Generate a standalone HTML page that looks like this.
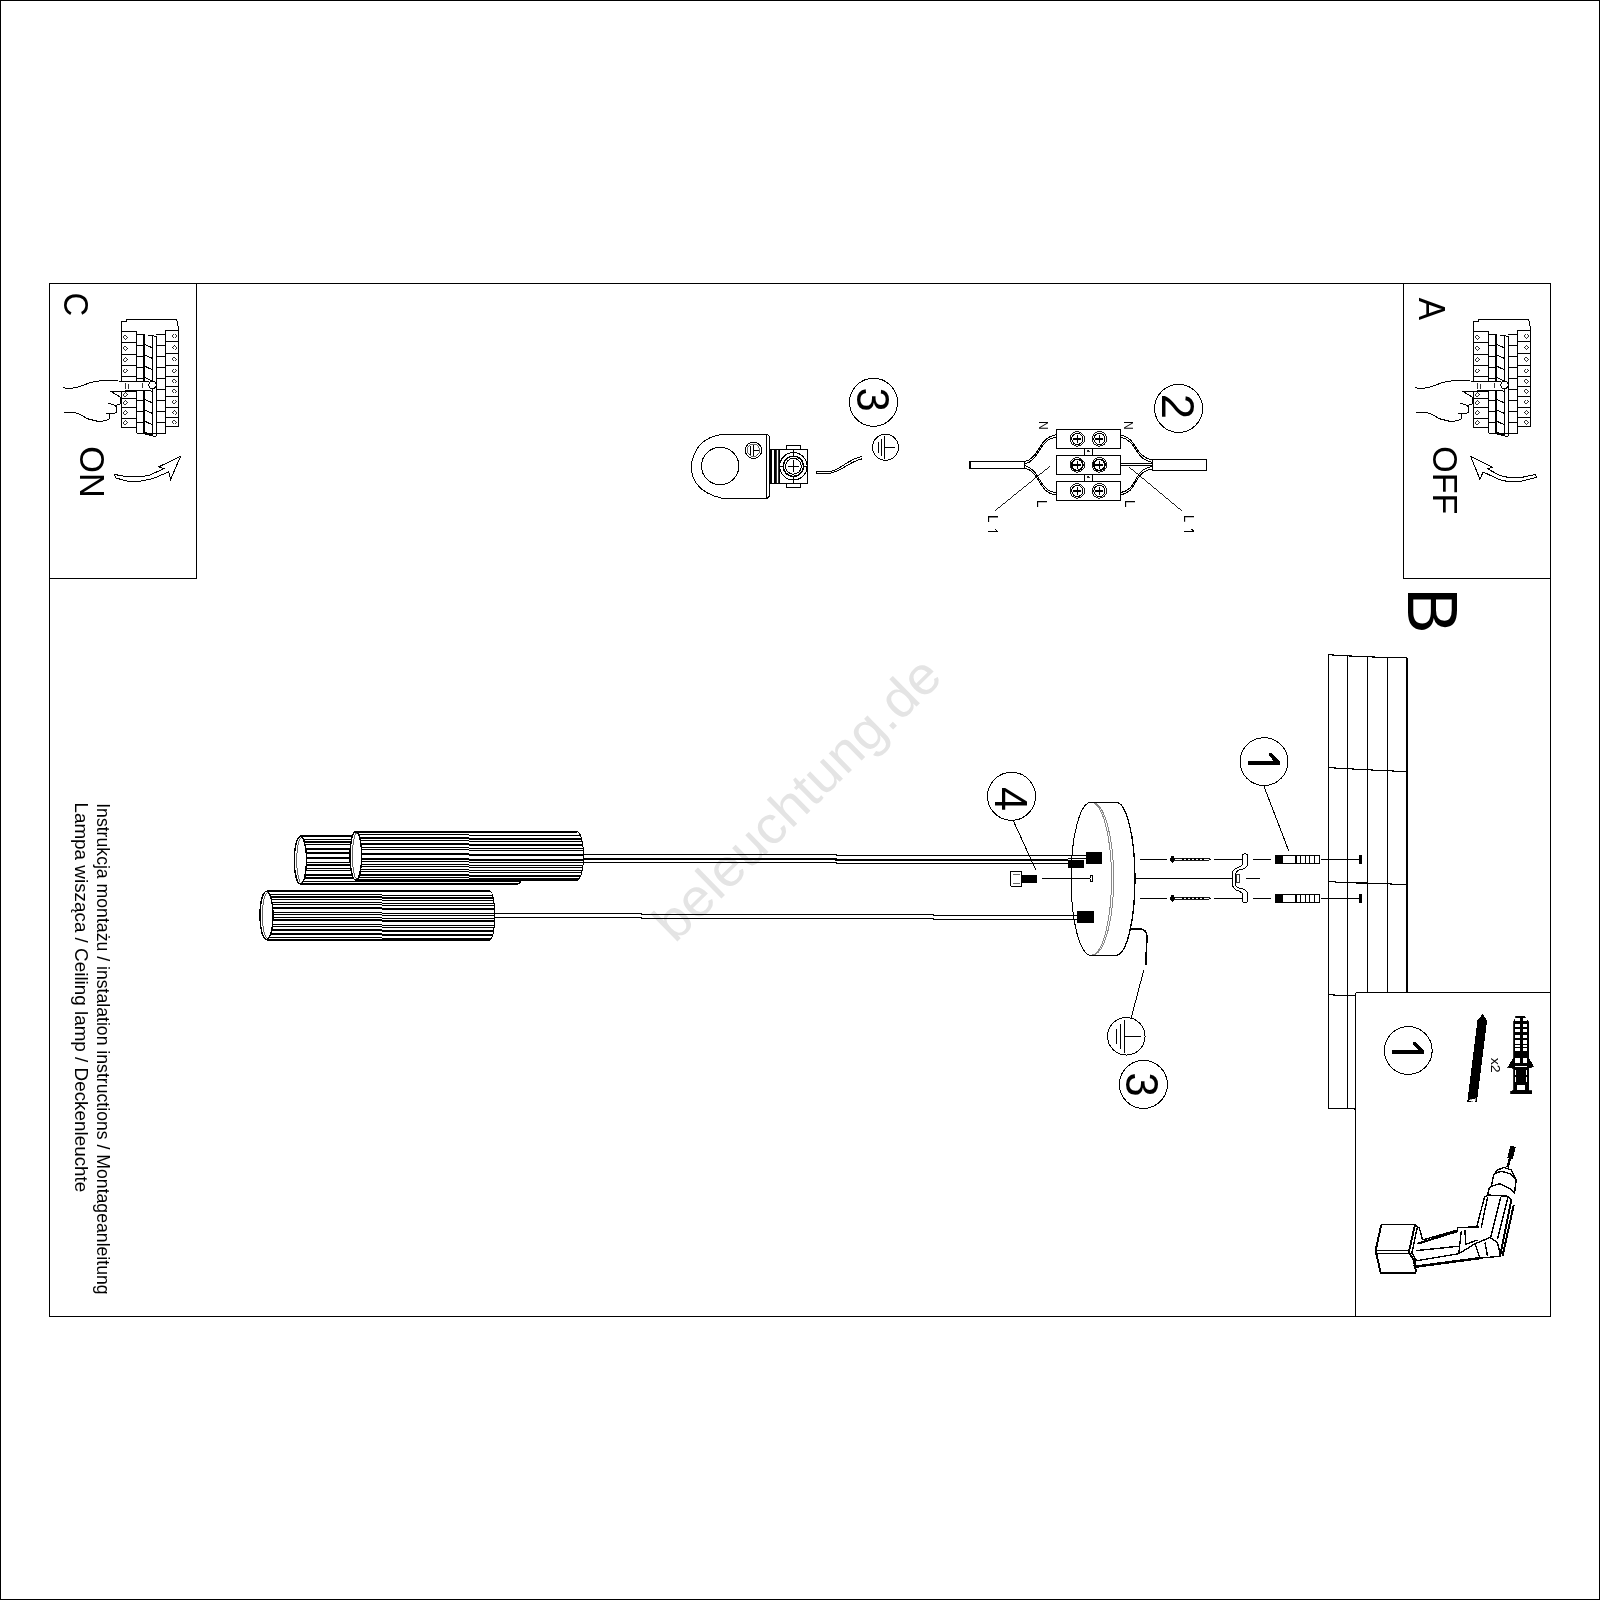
<!DOCTYPE html>
<html><head><meta charset="utf-8"><title>Installation</title>
<style>html,body{margin:0;padding:0;background:#fff;} svg{display:block;will-change:transform;} text{font-family:"Liberation Sans",sans-serif;}</style>
</head><body>
<svg width="1600" height="1600" viewBox="0 0 1600 1600" shape-rendering="crispEdges">
<rect x="0" y="0" width="1600" height="1600" fill="#fff"/>
<text transform="translate(674.8,944) rotate(-44.5)" font-size="53" fill="#e4e4e4" textLength="378" lengthAdjust="spacingAndGlyphs">beleuchtung.de</text>
<rect x="0.50" y="0.50" width="1599.00" height="1599.00" fill="none" stroke="#000" stroke-width="1" />
<rect x="49.50" y="283.50" width="1501.00" height="1033.00" fill="none" stroke="#000" stroke-width="1.0" />
<line x1="196.50" y1="283.50" x2="196.50" y2="578.50" stroke="#000" stroke-width="1.0" />
<line x1="49.50" y1="578.50" x2="196.50" y2="578.50" stroke="#000" stroke-width="1.0" />
<line x1="1403.50" y1="283.50" x2="1403.50" y2="578.50" stroke="#000" stroke-width="1.0" />
<line x1="1403.50" y1="578.50" x2="1550.50" y2="578.50" stroke="#000" stroke-width="1.0" />
<line x1="1355.50" y1="992.50" x2="1550.50" y2="992.50" stroke="#000" stroke-width="1.0" />
<line x1="1355.50" y1="992.50" x2="1355.50" y2="1316.50" stroke="#000" stroke-width="1.0" />
<text transform="translate(64.40,292.38) rotate(90) scale(0.9305,1)" font-size="35.38" font-weight="normal" fill="#000" >C</text>
<text transform="translate(80.41,446.17) rotate(90) scale(0.9795,1)" font-size="35.07" font-weight="normal" fill="#000" >ON</text>
<text transform="translate(1419.06,297.63) rotate(90) scale(0.9315,1)" font-size="36.11" font-weight="normal" fill="#000" >A</text>
<text transform="translate(1433.34,446.29) rotate(90) scale(0.9681,1)" font-size="35.17" font-weight="normal" fill="#000" >OFF</text>
<text transform="translate(1408.00,587.20) rotate(90) scale(0.9781,1)" font-size="71.08" font-weight="normal" fill="#000" >B</text>
<polyline points="121.25,331.88 121.25,321.25 126.25,321.25 126.25,319.00 176.00,319.00 177.50,321.88 178.50,330.00" fill="none" stroke="#000" stroke-width="1.0" />
<line x1="121.25" y1="331.88" x2="121.25" y2="427.50" stroke="#000" stroke-width="1.0" />
<line x1="136.50" y1="331.88" x2="136.50" y2="433.12" stroke="#000" stroke-width="1.0" />
<line x1="121.25" y1="331.88" x2="136.50" y2="331.88" stroke="#000" stroke-width="1.0" />
<line x1="121.25" y1="342.50" x2="136.50" y2="342.50" stroke="#000" stroke-width="1.0" />
<line x1="121.25" y1="354.12" x2="136.50" y2="354.12" stroke="#000" stroke-width="1.0" />
<line x1="121.25" y1="365.25" x2="136.50" y2="365.25" stroke="#000" stroke-width="1.0" />
<line x1="121.25" y1="376.25" x2="136.50" y2="376.25" stroke="#000" stroke-width="1.0" />
<line x1="121.25" y1="391.25" x2="136.50" y2="391.25" stroke="#000" stroke-width="1.0" />
<line x1="121.25" y1="398.12" x2="136.50" y2="398.12" stroke="#000" stroke-width="1.0" />
<line x1="121.25" y1="407.50" x2="136.50" y2="407.50" stroke="#000" stroke-width="1.0" />
<line x1="121.25" y1="418.12" x2="136.50" y2="418.12" stroke="#000" stroke-width="1.0" />
<line x1="121.25" y1="427.50" x2="136.50" y2="427.50" stroke="#000" stroke-width="1.0" />
<polygon points="125.38,334.99 127.58,337.19 125.38,339.39 123.17,337.19" fill="none" stroke="#000" stroke-width="0.8" />
<polygon points="125.38,346.11 127.58,348.31 125.38,350.51 123.17,348.31" fill="none" stroke="#000" stroke-width="0.8" />
<polygon points="125.38,357.49 127.58,359.69 125.38,361.89 123.17,359.69" fill="none" stroke="#000" stroke-width="0.8" />
<polygon points="125.38,368.55 127.58,370.75 125.38,372.95 123.17,370.75" fill="none" stroke="#000" stroke-width="0.8" />
<polygon points="125.38,392.49 127.58,394.69 125.38,396.89 123.17,394.69" fill="none" stroke="#000" stroke-width="0.8" />
<polygon points="125.38,400.61 127.58,402.81 125.38,405.01 123.17,402.81" fill="none" stroke="#000" stroke-width="0.8" />
<polygon points="125.38,410.61 127.58,412.81 125.38,415.01 123.17,412.81" fill="none" stroke="#000" stroke-width="0.8" />
<polygon points="125.38,420.61 127.58,422.81 125.38,425.01 123.17,422.81" fill="none" stroke="#000" stroke-width="0.8" />
<line x1="165.62" y1="330.00" x2="165.62" y2="433.12" stroke="#000" stroke-width="1.0" />
<line x1="178.50" y1="330.00" x2="178.50" y2="426.88" stroke="#000" stroke-width="1.0" />
<line x1="165.62" y1="330.00" x2="178.50" y2="330.00" stroke="#000" stroke-width="1.0" />
<line x1="165.62" y1="341.88" x2="178.50" y2="341.88" stroke="#000" stroke-width="1.0" />
<line x1="165.62" y1="353.12" x2="178.50" y2="353.12" stroke="#000" stroke-width="1.0" />
<line x1="165.62" y1="365.25" x2="178.50" y2="365.25" stroke="#000" stroke-width="1.0" />
<line x1="165.62" y1="376.25" x2="178.50" y2="376.25" stroke="#000" stroke-width="1.0" />
<line x1="165.62" y1="386.25" x2="178.50" y2="386.25" stroke="#000" stroke-width="1.0" />
<line x1="165.62" y1="396.25" x2="178.50" y2="396.25" stroke="#000" stroke-width="1.0" />
<line x1="165.62" y1="407.50" x2="178.50" y2="407.50" stroke="#000" stroke-width="1.0" />
<line x1="165.62" y1="417.50" x2="178.50" y2="417.50" stroke="#000" stroke-width="1.0" />
<line x1="165.62" y1="426.88" x2="178.50" y2="426.88" stroke="#000" stroke-width="1.0" />
<polygon points="174.38,333.74 176.57,335.94 174.38,338.14 172.18,335.94" fill="none" stroke="#000" stroke-width="0.8" />
<polygon points="174.38,345.30 176.57,347.50 174.38,349.70 172.18,347.50" fill="none" stroke="#000" stroke-width="0.8" />
<polygon points="174.38,356.99 176.57,359.19 174.38,361.39 172.18,359.19" fill="none" stroke="#000" stroke-width="0.8" />
<polygon points="174.38,368.55 176.57,370.75 174.38,372.95 172.18,370.75" fill="none" stroke="#000" stroke-width="0.8" />
<polygon points="174.38,379.05 176.57,381.25 174.38,383.45 172.18,381.25" fill="none" stroke="#000" stroke-width="0.8" />
<polygon points="174.38,389.05 176.57,391.25 174.38,393.45 172.18,391.25" fill="none" stroke="#000" stroke-width="0.8" />
<polygon points="174.38,399.68 176.57,401.88 174.38,404.07 172.18,401.88" fill="none" stroke="#000" stroke-width="0.8" />
<polygon points="174.38,410.30 176.57,412.50 174.38,414.70 172.18,412.50" fill="none" stroke="#000" stroke-width="0.8" />
<polygon points="174.38,419.99 176.57,422.19 174.38,424.39 172.18,422.19" fill="none" stroke="#000" stroke-width="0.8" />
<line x1="136.50" y1="334.38" x2="144.75" y2="334.38" stroke="#000" stroke-width="1.0" />
<line x1="156.25" y1="334.38" x2="165.62" y2="334.38" stroke="#000" stroke-width="1.0" />
<line x1="136.50" y1="334.38" x2="143.75" y2="334.38" stroke="#000" stroke-width="1.0" />
<line x1="156.25" y1="334.38" x2="165.62" y2="334.38" stroke="#000" stroke-width="1.0" />
<line x1="136.50" y1="345.62" x2="143.75" y2="345.62" stroke="#000" stroke-width="1.0" />
<line x1="156.25" y1="345.62" x2="165.62" y2="345.62" stroke="#000" stroke-width="1.0" />
<line x1="136.50" y1="356.25" x2="143.75" y2="356.25" stroke="#000" stroke-width="1.0" />
<line x1="156.25" y1="356.25" x2="165.62" y2="356.25" stroke="#000" stroke-width="1.0" />
<line x1="136.50" y1="367.50" x2="143.75" y2="367.50" stroke="#000" stroke-width="1.0" />
<line x1="156.25" y1="367.50" x2="165.62" y2="367.50" stroke="#000" stroke-width="1.0" />
<line x1="136.50" y1="378.75" x2="143.75" y2="378.75" stroke="#000" stroke-width="1.0" />
<line x1="156.25" y1="378.75" x2="165.62" y2="378.75" stroke="#000" stroke-width="1.0" />
<line x1="136.50" y1="389.38" x2="143.75" y2="389.38" stroke="#000" stroke-width="1.0" />
<line x1="156.25" y1="389.38" x2="165.62" y2="389.38" stroke="#000" stroke-width="1.0" />
<line x1="136.50" y1="400.62" x2="143.75" y2="400.62" stroke="#000" stroke-width="1.0" />
<line x1="156.25" y1="400.62" x2="165.62" y2="400.62" stroke="#000" stroke-width="1.0" />
<line x1="136.50" y1="411.25" x2="143.75" y2="411.25" stroke="#000" stroke-width="1.0" />
<line x1="156.25" y1="411.25" x2="165.62" y2="411.25" stroke="#000" stroke-width="1.0" />
<line x1="136.50" y1="422.50" x2="143.75" y2="422.50" stroke="#000" stroke-width="1.0" />
<line x1="156.25" y1="422.50" x2="165.62" y2="422.50" stroke="#000" stroke-width="1.0" />
<line x1="136.50" y1="433.12" x2="143.75" y2="433.12" stroke="#000" stroke-width="1.0" />
<line x1="156.25" y1="433.12" x2="165.62" y2="433.12" stroke="#000" stroke-width="1.0" />
<line x1="136.50" y1="433.12" x2="165.62" y2="433.12" stroke="#000" stroke-width="1.0" />
<line x1="144.00" y1="334.75" x2="144.00" y2="433.12" stroke="#000" stroke-width="2.0" />
<line x1="144.75" y1="335.00" x2="144.75" y2="433.75" stroke="#000" stroke-width="1.0" />
<line x1="152.50" y1="336.25" x2="152.50" y2="436.25" stroke="#000" stroke-width="1.0" />
<line x1="156.25" y1="336.25" x2="156.25" y2="436.25" stroke="#000" stroke-width="1.0" />
<line x1="147.75" y1="335.25" x2="156.25" y2="336.25" stroke="#000" stroke-width="1.0" />
<line x1="152.50" y1="436.25" x2="156.25" y2="436.25" stroke="#000" stroke-width="1.0" />
<line x1="144.75" y1="344.38" x2="152.50" y2="347.88" stroke="#000" stroke-width="1.0" />
<line x1="144.75" y1="355.00" x2="152.50" y2="358.50" stroke="#000" stroke-width="1.0" />
<line x1="144.75" y1="366.25" x2="152.50" y2="369.75" stroke="#000" stroke-width="1.0" />
<line x1="144.75" y1="377.50" x2="152.50" y2="381.00" stroke="#000" stroke-width="1.0" />
<line x1="144.75" y1="388.12" x2="152.50" y2="391.62" stroke="#000" stroke-width="1.0" />
<line x1="144.75" y1="399.38" x2="152.50" y2="402.88" stroke="#000" stroke-width="1.0" />
<line x1="144.75" y1="410.00" x2="152.50" y2="413.50" stroke="#000" stroke-width="1.0" />
<line x1="144.75" y1="421.25" x2="152.50" y2="424.75" stroke="#000" stroke-width="1.0" />
<line x1="144.75" y1="431.88" x2="152.50" y2="435.38" stroke="#000" stroke-width="1.0" />
<line x1="144.75" y1="433.75" x2="152.50" y2="436.25" stroke="#000" stroke-width="1.0" />
<polygon points="63.12,387.50 72.50,388.12 83.75,385.00 92.50,381.88 105.00,380.62 148.75,381.88 148.75,390.62 110.62,391.25 120.00,396.88 120.62,403.75 115.62,405.62 117.50,410.00 115.00,413.12 110.00,413.75 109.38,418.75 105.00,420.62 97.50,421.25 87.50,418.75 75.00,413.75 64.38,412.50" fill="#fff" stroke="#fff" stroke-width="0.01" />
<path d="M63.125 387.5 C68.75 389.375,77.5 387.5,83.75 385.0 S95.0 380.625,105.0 380.625 L148.75 381.875" fill="none" stroke="#000" stroke-width="1.0" />
<line x1="110.62" y1="391.25" x2="148.75" y2="390.62" stroke="#000" stroke-width="1.0" />
<path d="M110.625 391.25 L120.0 396.875 L120.625 403.75 L115.625 405.625 L108.125 403.125" fill="none" stroke="#000" stroke-width="1.0" />
<path d="M115.625 405.625 Q118.75 411.25,115.0 413.125 L105.625 413.125" fill="none" stroke="#000" stroke-width="1.0" />
<path d="M110.0 413.75 L109.375 418.75 Q107.5 421.25,97.5 421.25 L87.5 418.75 Q77.5 412.5,73.75 412.5 L64.375 412.5" fill="none" stroke="#000" stroke-width="1.0" />
<circle cx="152.50" cy="385.00" r="3.60" fill="#fff" stroke="#000" stroke-width="1.0"/>
<line x1="125.62" y1="382.50" x2="125.62" y2="388.75" stroke="#000" stroke-width="0.8" />
<line x1="128.12" y1="383.75" x2="128.12" y2="388.75" stroke="#000" stroke-width="0.8" />
<line x1="142.50" y1="383.12" x2="142.50" y2="388.12" stroke="#000" stroke-width="0.8" />
<polyline points="1473.25,331.88 1473.25,321.25 1478.25,321.25 1478.25,319.00 1528.00,319.00 1529.50,321.88 1530.50,330.00" fill="none" stroke="#000" stroke-width="1.0" />
<line x1="1473.25" y1="331.88" x2="1473.25" y2="427.50" stroke="#000" stroke-width="1.0" />
<line x1="1488.50" y1="331.88" x2="1488.50" y2="433.12" stroke="#000" stroke-width="1.0" />
<line x1="1473.25" y1="331.88" x2="1488.50" y2="331.88" stroke="#000" stroke-width="1.0" />
<line x1="1473.25" y1="342.50" x2="1488.50" y2="342.50" stroke="#000" stroke-width="1.0" />
<line x1="1473.25" y1="354.12" x2="1488.50" y2="354.12" stroke="#000" stroke-width="1.0" />
<line x1="1473.25" y1="365.25" x2="1488.50" y2="365.25" stroke="#000" stroke-width="1.0" />
<line x1="1473.25" y1="376.25" x2="1488.50" y2="376.25" stroke="#000" stroke-width="1.0" />
<line x1="1473.25" y1="391.25" x2="1488.50" y2="391.25" stroke="#000" stroke-width="1.0" />
<line x1="1473.25" y1="398.12" x2="1488.50" y2="398.12" stroke="#000" stroke-width="1.0" />
<line x1="1473.25" y1="407.50" x2="1488.50" y2="407.50" stroke="#000" stroke-width="1.0" />
<line x1="1473.25" y1="418.12" x2="1488.50" y2="418.12" stroke="#000" stroke-width="1.0" />
<line x1="1473.25" y1="427.50" x2="1488.50" y2="427.50" stroke="#000" stroke-width="1.0" />
<polygon points="1477.38,334.99 1479.58,337.19 1477.38,339.39 1475.17,337.19" fill="none" stroke="#000" stroke-width="0.8" />
<polygon points="1477.38,346.11 1479.58,348.31 1477.38,350.51 1475.17,348.31" fill="none" stroke="#000" stroke-width="0.8" />
<polygon points="1477.38,357.49 1479.58,359.69 1477.38,361.89 1475.17,359.69" fill="none" stroke="#000" stroke-width="0.8" />
<polygon points="1477.38,368.55 1479.58,370.75 1477.38,372.95 1475.17,370.75" fill="none" stroke="#000" stroke-width="0.8" />
<polygon points="1477.38,392.49 1479.58,394.69 1477.38,396.89 1475.17,394.69" fill="none" stroke="#000" stroke-width="0.8" />
<polygon points="1477.38,400.61 1479.58,402.81 1477.38,405.01 1475.17,402.81" fill="none" stroke="#000" stroke-width="0.8" />
<polygon points="1477.38,410.61 1479.58,412.81 1477.38,415.01 1475.17,412.81" fill="none" stroke="#000" stroke-width="0.8" />
<polygon points="1477.38,420.61 1479.58,422.81 1477.38,425.01 1475.17,422.81" fill="none" stroke="#000" stroke-width="0.8" />
<line x1="1517.62" y1="330.00" x2="1517.62" y2="433.12" stroke="#000" stroke-width="1.0" />
<line x1="1530.50" y1="330.00" x2="1530.50" y2="426.88" stroke="#000" stroke-width="1.0" />
<line x1="1517.62" y1="330.00" x2="1530.50" y2="330.00" stroke="#000" stroke-width="1.0" />
<line x1="1517.62" y1="341.88" x2="1530.50" y2="341.88" stroke="#000" stroke-width="1.0" />
<line x1="1517.62" y1="353.12" x2="1530.50" y2="353.12" stroke="#000" stroke-width="1.0" />
<line x1="1517.62" y1="365.25" x2="1530.50" y2="365.25" stroke="#000" stroke-width="1.0" />
<line x1="1517.62" y1="376.25" x2="1530.50" y2="376.25" stroke="#000" stroke-width="1.0" />
<line x1="1517.62" y1="386.25" x2="1530.50" y2="386.25" stroke="#000" stroke-width="1.0" />
<line x1="1517.62" y1="396.25" x2="1530.50" y2="396.25" stroke="#000" stroke-width="1.0" />
<line x1="1517.62" y1="407.50" x2="1530.50" y2="407.50" stroke="#000" stroke-width="1.0" />
<line x1="1517.62" y1="417.50" x2="1530.50" y2="417.50" stroke="#000" stroke-width="1.0" />
<line x1="1517.62" y1="426.88" x2="1530.50" y2="426.88" stroke="#000" stroke-width="1.0" />
<polygon points="1526.38,333.74 1528.58,335.94 1526.38,338.14 1524.17,335.94" fill="none" stroke="#000" stroke-width="0.8" />
<polygon points="1526.38,345.30 1528.58,347.50 1526.38,349.70 1524.17,347.50" fill="none" stroke="#000" stroke-width="0.8" />
<polygon points="1526.38,356.99 1528.58,359.19 1526.38,361.39 1524.17,359.19" fill="none" stroke="#000" stroke-width="0.8" />
<polygon points="1526.38,368.55 1528.58,370.75 1526.38,372.95 1524.17,370.75" fill="none" stroke="#000" stroke-width="0.8" />
<polygon points="1526.38,379.05 1528.58,381.25 1526.38,383.45 1524.17,381.25" fill="none" stroke="#000" stroke-width="0.8" />
<polygon points="1526.38,389.05 1528.58,391.25 1526.38,393.45 1524.17,391.25" fill="none" stroke="#000" stroke-width="0.8" />
<polygon points="1526.38,399.68 1528.58,401.88 1526.38,404.07 1524.17,401.88" fill="none" stroke="#000" stroke-width="0.8" />
<polygon points="1526.38,410.30 1528.58,412.50 1526.38,414.70 1524.17,412.50" fill="none" stroke="#000" stroke-width="0.8" />
<polygon points="1526.38,419.99 1528.58,422.19 1526.38,424.39 1524.17,422.19" fill="none" stroke="#000" stroke-width="0.8" />
<line x1="1488.50" y1="334.38" x2="1496.75" y2="334.38" stroke="#000" stroke-width="1.0" />
<line x1="1508.25" y1="334.38" x2="1517.62" y2="334.38" stroke="#000" stroke-width="1.0" />
<line x1="1488.50" y1="334.38" x2="1495.75" y2="334.38" stroke="#000" stroke-width="1.0" />
<line x1="1508.25" y1="334.38" x2="1517.62" y2="334.38" stroke="#000" stroke-width="1.0" />
<line x1="1488.50" y1="345.62" x2="1495.75" y2="345.62" stroke="#000" stroke-width="1.0" />
<line x1="1508.25" y1="345.62" x2="1517.62" y2="345.62" stroke="#000" stroke-width="1.0" />
<line x1="1488.50" y1="356.25" x2="1495.75" y2="356.25" stroke="#000" stroke-width="1.0" />
<line x1="1508.25" y1="356.25" x2="1517.62" y2="356.25" stroke="#000" stroke-width="1.0" />
<line x1="1488.50" y1="367.50" x2="1495.75" y2="367.50" stroke="#000" stroke-width="1.0" />
<line x1="1508.25" y1="367.50" x2="1517.62" y2="367.50" stroke="#000" stroke-width="1.0" />
<line x1="1488.50" y1="378.75" x2="1495.75" y2="378.75" stroke="#000" stroke-width="1.0" />
<line x1="1508.25" y1="378.75" x2="1517.62" y2="378.75" stroke="#000" stroke-width="1.0" />
<line x1="1488.50" y1="389.38" x2="1495.75" y2="389.38" stroke="#000" stroke-width="1.0" />
<line x1="1508.25" y1="389.38" x2="1517.62" y2="389.38" stroke="#000" stroke-width="1.0" />
<line x1="1488.50" y1="400.62" x2="1495.75" y2="400.62" stroke="#000" stroke-width="1.0" />
<line x1="1508.25" y1="400.62" x2="1517.62" y2="400.62" stroke="#000" stroke-width="1.0" />
<line x1="1488.50" y1="411.25" x2="1495.75" y2="411.25" stroke="#000" stroke-width="1.0" />
<line x1="1508.25" y1="411.25" x2="1517.62" y2="411.25" stroke="#000" stroke-width="1.0" />
<line x1="1488.50" y1="422.50" x2="1495.75" y2="422.50" stroke="#000" stroke-width="1.0" />
<line x1="1508.25" y1="422.50" x2="1517.62" y2="422.50" stroke="#000" stroke-width="1.0" />
<line x1="1488.50" y1="433.12" x2="1495.75" y2="433.12" stroke="#000" stroke-width="1.0" />
<line x1="1508.25" y1="433.12" x2="1517.62" y2="433.12" stroke="#000" stroke-width="1.0" />
<line x1="1488.50" y1="433.12" x2="1517.62" y2="433.12" stroke="#000" stroke-width="1.0" />
<line x1="1496.00" y1="334.75" x2="1496.00" y2="433.12" stroke="#000" stroke-width="2.0" />
<line x1="1496.75" y1="335.00" x2="1496.75" y2="433.75" stroke="#000" stroke-width="1.0" />
<line x1="1504.50" y1="336.25" x2="1504.50" y2="436.25" stroke="#000" stroke-width="1.0" />
<line x1="1508.25" y1="336.25" x2="1508.25" y2="436.25" stroke="#000" stroke-width="1.0" />
<line x1="1499.75" y1="335.25" x2="1508.25" y2="336.25" stroke="#000" stroke-width="1.0" />
<line x1="1504.50" y1="436.25" x2="1508.25" y2="436.25" stroke="#000" stroke-width="1.0" />
<line x1="1496.75" y1="344.38" x2="1504.50" y2="347.88" stroke="#000" stroke-width="1.0" />
<line x1="1496.75" y1="355.00" x2="1504.50" y2="358.50" stroke="#000" stroke-width="1.0" />
<line x1="1496.75" y1="366.25" x2="1504.50" y2="369.75" stroke="#000" stroke-width="1.0" />
<line x1="1496.75" y1="377.50" x2="1504.50" y2="381.00" stroke="#000" stroke-width="1.0" />
<line x1="1496.75" y1="388.12" x2="1504.50" y2="391.62" stroke="#000" stroke-width="1.0" />
<line x1="1496.75" y1="399.38" x2="1504.50" y2="402.88" stroke="#000" stroke-width="1.0" />
<line x1="1496.75" y1="410.00" x2="1504.50" y2="413.50" stroke="#000" stroke-width="1.0" />
<line x1="1496.75" y1="421.25" x2="1504.50" y2="424.75" stroke="#000" stroke-width="1.0" />
<line x1="1496.75" y1="431.88" x2="1504.50" y2="435.38" stroke="#000" stroke-width="1.0" />
<line x1="1496.75" y1="433.75" x2="1504.50" y2="436.25" stroke="#000" stroke-width="1.0" />
<polygon points="1415.12,387.50 1424.50,388.12 1435.75,385.00 1444.50,381.88 1457.00,380.62 1500.75,381.88 1500.75,390.62 1462.62,391.25 1472.00,396.88 1472.62,403.75 1467.62,405.62 1469.50,410.00 1467.00,413.12 1462.00,413.75 1461.38,418.75 1457.00,420.62 1449.50,421.25 1439.50,418.75 1427.00,413.75 1416.38,412.50" fill="#fff" stroke="#fff" stroke-width="0.01" />
<path d="M1415.125 387.5 C1420.75 389.375,1429.5 387.5,1435.75 385.0 S1447.0 380.625,1457.0 380.625 L1500.75 381.875" fill="none" stroke="#000" stroke-width="1.0" />
<line x1="1462.62" y1="391.25" x2="1500.75" y2="390.62" stroke="#000" stroke-width="1.0" />
<path d="M1462.625 391.25 L1472.0 396.875 L1472.625 403.75 L1467.625 405.625 L1460.125 403.125" fill="none" stroke="#000" stroke-width="1.0" />
<path d="M1467.625 405.625 Q1470.75 411.25,1467.0 413.125 L1457.625 413.125" fill="none" stroke="#000" stroke-width="1.0" />
<path d="M1462.0 413.75 L1461.375 418.75 Q1459.5 421.25,1449.5 421.25 L1439.5 418.75 Q1429.5 412.5,1425.75 412.5 L1416.375 412.5" fill="none" stroke="#000" stroke-width="1.0" />
<circle cx="1504.50" cy="385.00" r="3.60" fill="#fff" stroke="#000" stroke-width="1.0"/>
<line x1="1477.62" y1="382.50" x2="1477.62" y2="388.75" stroke="#000" stroke-width="0.8" />
<line x1="1480.12" y1="383.75" x2="1480.12" y2="388.75" stroke="#000" stroke-width="0.8" />
<line x1="1494.50" y1="383.12" x2="1494.50" y2="388.12" stroke="#000" stroke-width="0.8" />
<polygon points="114.40,474.40 127.50,476.90 140.00,476.90 150.00,475.00 163.75,468.75 158.75,466.90 180.60,456.25 170.60,479.40 168.75,471.90 152.50,478.75 140.00,481.25 127.50,481.25 116.25,478.10" fill="none" stroke="#000" stroke-width="1.0" />
<polygon points="1535.60,474.40 1521.25,477.50 1508.75,477.50 1500.00,475.60 1487.50,468.75 1492.50,467.25 1470.60,456.25 1480.00,479.40 1483.10,471.90 1498.75,479.40 1507.50,481.50 1521.25,481.25 1536.25,477.50" fill="none" stroke="#000" stroke-width="1.0" />
<line x1="1328.50" y1="654.50" x2="1328.50" y2="1108.50" stroke="#000" stroke-width="1.2" />
<line x1="1347.50" y1="656.00" x2="1347.50" y2="1108.50" stroke="#000" stroke-width="1.2" />
<line x1="1367.50" y1="656.50" x2="1367.50" y2="992.50" stroke="#000" stroke-width="1.2" />
<line x1="1387.50" y1="657.00" x2="1387.50" y2="992.50" stroke="#000" stroke-width="1.2" />
<line x1="1407.00" y1="657.50" x2="1407.00" y2="992.50" stroke="#000" stroke-width="1.6" />
<polyline points="1328.50,654.50 1338.00,655.50 1347.50,655.80 1357.00,656.50 1367.50,656.50 1377.00,657.30 1387.50,657.30 1397.00,657.80 1407.00,657.80" fill="none" stroke="#000" stroke-width="1.2" />
<polyline points="1328.50,767.30 1338.00,768.30 1347.50,768.40 1357.00,769.50 1367.50,769.60 1377.00,770.40 1387.50,770.50 1397.00,771.40 1407.00,771.40" fill="none" stroke="#000" stroke-width="1.2" />
<polyline points="1328.50,881.20 1338.00,882.30 1347.50,882.30 1357.00,883.00 1367.50,883.10 1377.00,883.60 1387.50,883.70 1397.00,884.50 1407.00,884.50" fill="none" stroke="#000" stroke-width="1.2" />
<polyline points="1328.50,994.40 1338.00,995.50 1347.50,995.50 1355.50,995.60" fill="none" stroke="#000" stroke-width="1.2" />
<polyline points="1328.50,1108.50 1347.50,1108.50 1355.50,1109.00" fill="none" stroke="#000" stroke-width="1.2" />
<circle cx="1264.00" cy="761.60" r="23.90" fill="none" stroke="#000" stroke-width="1.0"/>
<rect x="1248.00" y="761.05" width="31.80" height="3.85" fill="#000" stroke="#000" stroke-width="0" />
<polygon points="1268.80,753.20 1271.50,753.10 1279.80,761.30 1279.80,763.10 1273.80,761.05 1269.00,755.40" fill="#000" stroke="#000" stroke-width="0.01" />
<circle cx="1408.30" cy="1050.50" r="23.90" fill="none" stroke="#000" stroke-width="1.0"/>
<rect x="1392.30" y="1049.95" width="31.80" height="3.85" fill="#000" stroke="#000" stroke-width="0" />
<polygon points="1413.10,1042.10 1415.80,1042.00 1424.10,1050.20 1424.10,1052.00 1418.10,1049.95 1413.30,1044.30" fill="#000" stroke="#000" stroke-width="0.01" />
<circle cx="1011.50" cy="796.30" r="24.00" fill="none" stroke="#000" stroke-width="1.0"/>
<text transform="translate(995.00,787.01) rotate(90) scale(0.9330,1)" font-size="46.37" font-weight="normal" fill="#000" >4</text>
<circle cx="1143.40" cy="1084.40" r="24.00" fill="none" stroke="#000" stroke-width="1.0"/>
<text transform="translate(1126.45,1072.32) rotate(90) scale(0.9515,1)" font-size="46.33" font-weight="normal" fill="#000" >3</text>
<circle cx="1178.60" cy="408.40" r="24.00" fill="none" stroke="#000" stroke-width="1.0"/>
<text transform="translate(1162.00,393.80) rotate(90) scale(0.9994,1)" font-size="45.69" font-weight="normal" fill="#000" >2</text>
<circle cx="873.50" cy="402.30" r="24.00" fill="none" stroke="#000" stroke-width="1.0"/>
<text transform="translate(856.55,387.44) rotate(90) scale(0.9424,1)" font-size="46.33" font-weight="normal" fill="#000" >3</text>
<line x1="1263.70" y1="785.60" x2="1288.70" y2="850.80" stroke="#000" stroke-width="1.0" />
<line x1="1013.20" y1="820.50" x2="1035.70" y2="869.70" stroke="#000" stroke-width="1.0" />
<circle cx="1126.30" cy="1036.30" r="18.75" fill="none" stroke="#000" stroke-width="1.0"/>
<line x1="1116.30" y1="1028.80" x2="1116.30" y2="1044.40" stroke="#000" stroke-width="1.0" />
<line x1="1120.40" y1="1024.40" x2="1120.40" y2="1048.80" stroke="#000" stroke-width="1.0" />
<line x1="1124.40" y1="1020.10" x2="1124.40" y2="1052.50" stroke="#000" stroke-width="1.0" />
<line x1="1124.40" y1="1036.30" x2="1140.70" y2="1036.30" stroke="#000" stroke-width="1.0" />
<circle cx="885.50" cy="447.30" r="13.00" fill="none" stroke="#000" stroke-width="1.0"/>
<line x1="878.57" y1="442.10" x2="878.57" y2="452.92" stroke="#000" stroke-width="1.0" />
<line x1="881.41" y1="439.05" x2="881.41" y2="455.97" stroke="#000" stroke-width="1.0" />
<line x1="884.18" y1="436.07" x2="884.18" y2="458.53" stroke="#000" stroke-width="1.0" />
<line x1="884.18" y1="447.30" x2="895.48" y2="447.30" stroke="#000" stroke-width="1.0" />
<path d="M1131.3,928.7 L1140,928.7 Q1147,929.5 1147,937 L1145.7,965" fill="none" stroke="#000" stroke-width="1.6" />
<line x1="1143.80" y1="970.00" x2="1131.30" y2="1017.50" stroke="#000" stroke-width="1.0" />
<path d="M300.40,836.50 L518.00,836.50 A6.00,23.75 0 0 1 518.00,884.00 L300.40,884.00 Z" fill="#fff" stroke="none"/>
<line x1="300.40" y1="836.00" x2="518.00" y2="836.00" stroke="#000" stroke-width="1.6" shape-rendering="crispEdges"/>
<line x1="303.37" y1="839.50" x2="520.92" y2="839.50" stroke="#000" stroke-width="1" shape-rendering="crispEdges"/>
<line x1="304.45" y1="842.00" x2="521.99" y2="842.00" stroke="#000" stroke-width="1.6" shape-rendering="crispEdges"/>
<line x1="305.08" y1="844.50" x2="522.60" y2="844.50" stroke="#000" stroke-width="1" shape-rendering="crispEdges"/>
<line x1="305.63" y1="848.50" x2="523.14" y2="848.50" stroke="#000" stroke-width="1" shape-rendering="crispEdges"/>
<line x1="305.84" y1="849.50" x2="523.35" y2="849.50" stroke="#000" stroke-width="1" shape-rendering="crispEdges"/>
<line x1="306.12" y1="852.50" x2="523.63" y2="852.50" stroke="#000" stroke-width="1" shape-rendering="crispEdges"/>
<line x1="306.25" y1="853.50" x2="523.75" y2="853.50" stroke="#000" stroke-width="1" shape-rendering="crispEdges"/>
<line x1="306.46" y1="857.50" x2="523.96" y2="857.50" stroke="#000" stroke-width="1" shape-rendering="crispEdges"/>
<line x1="306.49" y1="858.50" x2="523.99" y2="858.50" stroke="#000" stroke-width="1" shape-rendering="crispEdges"/>
<line x1="306.47" y1="862.50" x2="523.97" y2="862.50" stroke="#000" stroke-width="1" shape-rendering="crispEdges"/>
<line x1="306.42" y1="864.50" x2="523.92" y2="864.50" stroke="#000" stroke-width="1" shape-rendering="crispEdges"/>
<line x1="306.35" y1="865.50" x2="523.85" y2="865.50" stroke="#000" stroke-width="1" shape-rendering="crispEdges"/>
<line x1="306.07" y1="868.50" x2="523.58" y2="868.50" stroke="#000" stroke-width="1" shape-rendering="crispEdges"/>
<line x1="305.84" y1="870.50" x2="523.35" y2="870.50" stroke="#000" stroke-width="1" shape-rendering="crispEdges"/>
<line x1="305.37" y1="874.50" x2="522.89" y2="874.50" stroke="#000" stroke-width="1" shape-rendering="crispEdges"/>
<line x1="305.08" y1="875.50" x2="522.60" y2="875.50" stroke="#000" stroke-width="1" shape-rendering="crispEdges"/>
<line x1="304.30" y1="878.00" x2="521.84" y2="878.00" stroke="#000" stroke-width="1.6" shape-rendering="crispEdges"/>
<line x1="303.12" y1="881.50" x2="520.68" y2="881.50" stroke="#000" stroke-width="1" shape-rendering="crispEdges"/>
<line x1="300.40" y1="884.00" x2="518.00" y2="884.00" stroke="#000" stroke-width="1.6" shape-rendering="crispEdges"/>
<path d="M518.00,836.50 A6.00,23.75 0 0 1 518.00,884.00" fill="none" stroke="#000" stroke-width="1.0" />
<ellipse cx="300.40" cy="860.25" rx="6.10" ry="23.75" fill="#fff" stroke="#000" stroke-width="1.4"/>
<ellipse cx="301.60" cy="860.25" rx="4.90" ry="22.55" fill="none" stroke="#000" stroke-width="0.6"/>
<path d="M355.80,831.70 L577.00,831.70 A6.50,24.25 0 0 1 577.00,880.20 L355.80,880.20 Z" fill="#fff" stroke="none"/>
<line x1="355.80" y1="832.00" x2="577.00" y2="832.00" stroke="#000" stroke-width="1.6" shape-rendering="crispEdges"/>
<line x1="358.62" y1="834.50" x2="469.00" y2="834.50" stroke="#000" stroke-width="1" shape-rendering="crispEdges"/>
<line x1="469.00" y1="835.50" x2="580.16" y2="835.50" stroke="#000" stroke-width="1" shape-rendering="crispEdges"/>
<line x1="359.65" y1="838.00" x2="469.00" y2="838.00" stroke="#000" stroke-width="1.6" shape-rendering="crispEdges"/>
<line x1="469.00" y1="839.00" x2="581.32" y2="839.00" stroke="#000" stroke-width="1.6" shape-rendering="crispEdges"/>
<line x1="360.25" y1="840.50" x2="469.00" y2="840.50" stroke="#000" stroke-width="1" shape-rendering="crispEdges"/>
<line x1="469.00" y1="841.50" x2="581.98" y2="841.50" stroke="#000" stroke-width="1" shape-rendering="crispEdges"/>
<line x1="360.77" y1="843.50" x2="469.00" y2="843.50" stroke="#000" stroke-width="1" shape-rendering="crispEdges"/>
<line x1="469.00" y1="844.50" x2="582.57" y2="844.50" stroke="#000" stroke-width="1" shape-rendering="crispEdges"/>
<line x1="360.97" y1="844.50" x2="469.00" y2="844.50" stroke="#000" stroke-width="1" shape-rendering="crispEdges"/>
<line x1="469.00" y1="845.50" x2="582.80" y2="845.50" stroke="#000" stroke-width="1" shape-rendering="crispEdges"/>
<line x1="361.24" y1="847.50" x2="469.00" y2="847.50" stroke="#000" stroke-width="1" shape-rendering="crispEdges"/>
<line x1="469.00" y1="848.50" x2="583.10" y2="848.50" stroke="#000" stroke-width="1" shape-rendering="crispEdges"/>
<line x1="361.36" y1="849.50" x2="469.00" y2="849.50" stroke="#000" stroke-width="1" shape-rendering="crispEdges"/>
<line x1="469.00" y1="850.50" x2="583.23" y2="850.50" stroke="#000" stroke-width="1" shape-rendering="crispEdges"/>
<line x1="361.56" y1="853.50" x2="469.00" y2="853.50" stroke="#000" stroke-width="1" shape-rendering="crispEdges"/>
<line x1="469.00" y1="854.50" x2="583.46" y2="854.50" stroke="#000" stroke-width="1" shape-rendering="crispEdges"/>
<line x1="361.59" y1="854.50" x2="469.00" y2="854.50" stroke="#000" stroke-width="1" shape-rendering="crispEdges"/>
<line x1="469.00" y1="855.50" x2="583.49" y2="855.50" stroke="#000" stroke-width="1" shape-rendering="crispEdges"/>
<line x1="361.57" y1="858.50" x2="469.00" y2="858.50" stroke="#000" stroke-width="1" shape-rendering="crispEdges"/>
<line x1="469.00" y1="859.50" x2="583.47" y2="859.50" stroke="#000" stroke-width="1" shape-rendering="crispEdges"/>
<line x1="361.53" y1="859.50" x2="469.00" y2="859.50" stroke="#000" stroke-width="1" shape-rendering="crispEdges"/>
<line x1="469.00" y1="860.50" x2="583.42" y2="860.50" stroke="#000" stroke-width="1" shape-rendering="crispEdges"/>
<line x1="361.46" y1="861.50" x2="469.00" y2="861.50" stroke="#000" stroke-width="1" shape-rendering="crispEdges"/>
<line x1="469.00" y1="862.50" x2="583.34" y2="862.50" stroke="#000" stroke-width="1" shape-rendering="crispEdges"/>
<line x1="361.19" y1="864.50" x2="469.00" y2="864.50" stroke="#000" stroke-width="1" shape-rendering="crispEdges"/>
<line x1="469.00" y1="865.50" x2="583.04" y2="865.50" stroke="#000" stroke-width="1" shape-rendering="crispEdges"/>
<line x1="360.97" y1="866.50" x2="469.00" y2="866.50" stroke="#000" stroke-width="1" shape-rendering="crispEdges"/>
<line x1="469.00" y1="867.50" x2="582.80" y2="867.50" stroke="#000" stroke-width="1" shape-rendering="crispEdges"/>
<line x1="360.53" y1="869.50" x2="469.00" y2="869.50" stroke="#000" stroke-width="1" shape-rendering="crispEdges"/>
<line x1="469.00" y1="870.50" x2="582.30" y2="870.50" stroke="#000" stroke-width="1" shape-rendering="crispEdges"/>
<line x1="360.25" y1="871.50" x2="469.00" y2="871.50" stroke="#000" stroke-width="1" shape-rendering="crispEdges"/>
<line x1="469.00" y1="872.50" x2="581.98" y2="872.50" stroke="#000" stroke-width="1" shape-rendering="crispEdges"/>
<line x1="359.51" y1="875.00" x2="469.00" y2="875.00" stroke="#000" stroke-width="1.6" shape-rendering="crispEdges"/>
<line x1="469.00" y1="876.00" x2="581.16" y2="876.00" stroke="#000" stroke-width="1.6" shape-rendering="crispEdges"/>
<line x1="358.39" y1="877.50" x2="469.00" y2="877.50" stroke="#000" stroke-width="1" shape-rendering="crispEdges"/>
<line x1="469.00" y1="878.50" x2="579.90" y2="878.50" stroke="#000" stroke-width="1" shape-rendering="crispEdges"/>
<line x1="355.80" y1="880.00" x2="577.00" y2="880.00" stroke="#000" stroke-width="1.6" shape-rendering="crispEdges"/>
<path d="M577.00,831.70 A6.50,24.25 0 0 1 577.00,880.20" fill="none" stroke="#000" stroke-width="1.0" />
<ellipse cx="355.80" cy="855.95" rx="5.80" ry="24.25" fill="#fff" stroke="#000" stroke-width="1.4"/>
<ellipse cx="357.00" cy="855.95" rx="4.60" ry="23.05" fill="none" stroke="#000" stroke-width="0.6"/>
<path d="M266.50,891.30 L490.00,891.30 A4.80,24.15 0 0 1 490.00,939.60 L266.50,939.60 Z" fill="#fff" stroke="none"/>
<line x1="266.50" y1="891.00" x2="490.00" y2="891.00" stroke="#000" stroke-width="1.6" shape-rendering="crispEdges"/>
<line x1="269.66" y1="894.50" x2="382.00" y2="894.50" stroke="#000" stroke-width="1" shape-rendering="crispEdges"/>
<line x1="382.00" y1="895.50" x2="492.34" y2="895.50" stroke="#000" stroke-width="1" shape-rendering="crispEdges"/>
<line x1="270.82" y1="897.00" x2="382.00" y2="897.00" stroke="#000" stroke-width="1.6" shape-rendering="crispEdges"/>
<line x1="382.00" y1="898.00" x2="493.19" y2="898.00" stroke="#000" stroke-width="1.6" shape-rendering="crispEdges"/>
<line x1="271.48" y1="899.50" x2="382.00" y2="899.50" stroke="#000" stroke-width="1" shape-rendering="crispEdges"/>
<line x1="382.00" y1="900.50" x2="493.68" y2="900.50" stroke="#000" stroke-width="1" shape-rendering="crispEdges"/>
<line x1="272.07" y1="902.50" x2="382.00" y2="902.50" stroke="#000" stroke-width="1" shape-rendering="crispEdges"/>
<line x1="382.00" y1="903.50" x2="494.11" y2="903.50" stroke="#000" stroke-width="1" shape-rendering="crispEdges"/>
<line x1="272.30" y1="904.50" x2="382.00" y2="904.50" stroke="#000" stroke-width="1" shape-rendering="crispEdges"/>
<line x1="382.00" y1="905.50" x2="494.28" y2="905.50" stroke="#000" stroke-width="1" shape-rendering="crispEdges"/>
<line x1="272.60" y1="907.50" x2="382.00" y2="907.50" stroke="#000" stroke-width="1" shape-rendering="crispEdges"/>
<line x1="382.00" y1="908.50" x2="494.50" y2="908.50" stroke="#000" stroke-width="1" shape-rendering="crispEdges"/>
<line x1="272.73" y1="908.50" x2="382.00" y2="908.50" stroke="#000" stroke-width="1" shape-rendering="crispEdges"/>
<line x1="382.00" y1="909.50" x2="494.60" y2="909.50" stroke="#000" stroke-width="1" shape-rendering="crispEdges"/>
<line x1="272.96" y1="912.50" x2="382.00" y2="912.50" stroke="#000" stroke-width="1" shape-rendering="crispEdges"/>
<line x1="382.00" y1="913.50" x2="494.77" y2="913.50" stroke="#000" stroke-width="1" shape-rendering="crispEdges"/>
<line x1="272.99" y1="914.50" x2="382.00" y2="914.50" stroke="#000" stroke-width="1" shape-rendering="crispEdges"/>
<line x1="382.00" y1="915.50" x2="494.79" y2="915.50" stroke="#000" stroke-width="1" shape-rendering="crispEdges"/>
<line x1="272.97" y1="917.50" x2="382.00" y2="917.50" stroke="#000" stroke-width="1" shape-rendering="crispEdges"/>
<line x1="382.00" y1="918.50" x2="494.78" y2="918.50" stroke="#000" stroke-width="1" shape-rendering="crispEdges"/>
<line x1="272.92" y1="919.50" x2="382.00" y2="919.50" stroke="#000" stroke-width="1" shape-rendering="crispEdges"/>
<line x1="382.00" y1="920.50" x2="494.74" y2="920.50" stroke="#000" stroke-width="1" shape-rendering="crispEdges"/>
<line x1="272.84" y1="920.50" x2="382.00" y2="920.50" stroke="#000" stroke-width="1" shape-rendering="crispEdges"/>
<line x1="382.00" y1="921.50" x2="494.68" y2="921.50" stroke="#000" stroke-width="1" shape-rendering="crispEdges"/>
<line x1="272.54" y1="924.50" x2="382.00" y2="924.50" stroke="#000" stroke-width="1" shape-rendering="crispEdges"/>
<line x1="382.00" y1="925.50" x2="494.46" y2="925.50" stroke="#000" stroke-width="1" shape-rendering="crispEdges"/>
<line x1="272.30" y1="926.50" x2="382.00" y2="926.50" stroke="#000" stroke-width="1" shape-rendering="crispEdges"/>
<line x1="382.00" y1="927.50" x2="494.28" y2="927.50" stroke="#000" stroke-width="1" shape-rendering="crispEdges"/>
<line x1="271.80" y1="929.50" x2="382.00" y2="929.50" stroke="#000" stroke-width="1" shape-rendering="crispEdges"/>
<line x1="382.00" y1="930.50" x2="493.91" y2="930.50" stroke="#000" stroke-width="1" shape-rendering="crispEdges"/>
<line x1="271.48" y1="930.50" x2="382.00" y2="930.50" stroke="#000" stroke-width="1" shape-rendering="crispEdges"/>
<line x1="382.00" y1="931.50" x2="493.68" y2="931.50" stroke="#000" stroke-width="1" shape-rendering="crispEdges"/>
<line x1="270.66" y1="934.00" x2="382.00" y2="934.00" stroke="#000" stroke-width="1.6" shape-rendering="crispEdges"/>
<line x1="382.00" y1="935.00" x2="493.07" y2="935.00" stroke="#000" stroke-width="1.6" shape-rendering="crispEdges"/>
<line x1="269.40" y1="937.50" x2="382.00" y2="937.50" stroke="#000" stroke-width="1" shape-rendering="crispEdges"/>
<line x1="382.00" y1="938.50" x2="492.14" y2="938.50" stroke="#000" stroke-width="1" shape-rendering="crispEdges"/>
<line x1="266.50" y1="940.00" x2="490.00" y2="940.00" stroke="#000" stroke-width="1.6" shape-rendering="crispEdges"/>
<path d="M490.00,891.30 A4.80,24.15 0 0 1 490.00,939.60" fill="none" stroke="#000" stroke-width="1.0" />
<ellipse cx="266.50" cy="915.45" rx="6.50" ry="24.15" fill="#fff" stroke="#000" stroke-width="1.4"/>
<ellipse cx="267.70" cy="915.45" rx="5.30" ry="22.95" fill="none" stroke="#000" stroke-width="0.6"/>
<polyline points="583.80,854.30 836.00,854.30 836.00,855.80 1086.00,855.80" fill="none" stroke="#000" stroke-width="1.0" />
<polyline points="583.80,859.00 836.00,859.00 836.00,859.60 1068.00,859.60" fill="none" stroke="#000" stroke-width="1.8" />
<polyline points="583.80,862.30 836.00,862.30 836.00,863.30 1068.00,863.30" fill="none" stroke="#000" stroke-width="1.0" />
<line x1="1068.00" y1="858.20" x2="1086.00" y2="858.20" stroke="#000" stroke-width="1.0" />
<polyline points="493.80,913.30 641.50,913.30 641.50,914.50 933.00,914.50 933.00,915.20 1077.00,915.20" fill="none" stroke="#000" stroke-width="1.0" />
<polyline points="493.80,917.50 641.50,917.50 641.50,918.50 933.00,918.50 933.00,919.30 1077.00,919.30" fill="none" stroke="#000" stroke-width="1.0" />
<path d="M1091,802.3 A20,76.5 0 0 0 1091,955.3" fill="none" stroke="#000" stroke-width="1.0" />
<path d="M1091.5,802.5 A20,76.3 0 0 1 1092.5,955" fill="none" stroke="#888" stroke-width="1.0" />
<path d="M1093,802.8 A21,76 0 0 1 1094.5,954.5" fill="none" stroke="#888" stroke-width="1.0" />
<path d="M1091,802.3 L1116,802.3 A19,76.5 0 0 1 1116,955.3 L1091,955.3" fill="none" stroke="#000" stroke-width="1.3" />
<rect x="1086.00" y="851.80" width="15.50" height="12.00" fill="#000" stroke="#000" stroke-width="0" />
<rect x="1068.00" y="860.00" width="15.50" height="7.50" fill="#000" stroke="#000" stroke-width="0" />
<rect x="1077.00" y="911.00" width="16.50" height="12.00" fill="#000" stroke="#000" stroke-width="0" />
<path d="M1011,871.5 L1021.5,871.5 L1021.5,886 L1011,886 Q1009.5,878.7 1011,871.5 Z" fill="none" stroke="#000" stroke-width="1.0" />
<line x1="1013.00" y1="874.00" x2="1020.00" y2="874.00" stroke="#000" stroke-width="0.6" />
<line x1="1013.00" y1="883.50" x2="1020.00" y2="883.50" stroke="#000" stroke-width="0.6" />
<rect x="1021.50" y="875.00" width="15.50" height="8.00" fill="#000" stroke="#000" stroke-width="0" />
<line x1="1042.00" y1="878.00" x2="1090.00" y2="878.00" stroke="#000" stroke-width="1.0" />
<ellipse cx="1091.50" cy="878.50" rx="1.50" ry="3.00" fill="none" stroke="#000" stroke-width="1.0"/>
<line x1="1134.70" y1="878.30" x2="1236.00" y2="878.30" stroke="#000" stroke-width="1.0" />
<line x1="1140.00" y1="859.40" x2="1166.70" y2="859.40" stroke="#000" stroke-width="1.0" />
<ellipse cx="1172.50" cy="859.40" rx="1.60" ry="2.80" fill="#000" stroke="#000" stroke-width="1.0"/>
<path d="M1174,858.2 L1208,858.2 L1211,859.4 L1208,860.6 L1174,860.6" fill="none" stroke="#000" stroke-width="0.9" />
<line x1="1183.00" y1="858.40" x2="1183.00" y2="860.40" stroke="#000" stroke-width="1.5" />
<line x1="1187.00" y1="858.40" x2="1187.00" y2="860.40" stroke="#000" stroke-width="1.5" />
<line x1="1191.00" y1="858.40" x2="1191.00" y2="860.40" stroke="#000" stroke-width="1.5" />
<line x1="1195.00" y1="858.40" x2="1195.00" y2="860.40" stroke="#000" stroke-width="1.5" />
<line x1="1199.00" y1="858.40" x2="1199.00" y2="860.40" stroke="#000" stroke-width="1.5" />
<line x1="1203.00" y1="858.40" x2="1203.00" y2="860.40" stroke="#000" stroke-width="1.5" />
<line x1="1214.00" y1="859.40" x2="1243.00" y2="859.40" stroke="#000" stroke-width="1.0" />
<line x1="1252.70" y1="859.40" x2="1271.40" y2="859.40" stroke="#000" stroke-width="1.0" />
<rect x="1275.00" y="855.20" width="7.00" height="8.40" fill="#000" stroke="#000" stroke-width="0" />
<rect x="1282.00" y="855.80" width="37.00" height="7.20" fill="none" stroke="#000" stroke-width="1.0" />
<line x1="1296.00" y1="855.80" x2="1296.00" y2="863.00" stroke="#000" stroke-width="1.1" />
<line x1="1300.60" y1="855.80" x2="1300.60" y2="863.00" stroke="#000" stroke-width="1.1" />
<line x1="1305.20" y1="855.80" x2="1305.20" y2="863.00" stroke="#000" stroke-width="1.1" />
<line x1="1309.80" y1="855.80" x2="1309.80" y2="863.00" stroke="#000" stroke-width="1.1" />
<line x1="1314.40" y1="855.80" x2="1314.40" y2="863.00" stroke="#000" stroke-width="1.1" />
<line x1="1321.00" y1="859.40" x2="1359.70" y2="859.40" stroke="#000" stroke-width="1.0" />
<rect x="1359.30" y="855.20" width="2.60" height="8.50" fill="#000" stroke="#000" stroke-width="1.0" />
<line x1="1140.00" y1="898.40" x2="1166.70" y2="898.40" stroke="#000" stroke-width="1.0" />
<ellipse cx="1172.50" cy="898.40" rx="1.60" ry="2.80" fill="#000" stroke="#000" stroke-width="1.0"/>
<path d="M1174,897.2 L1208,897.2 L1211,898.4 L1208,899.6 L1174,899.6" fill="none" stroke="#000" stroke-width="0.9" />
<line x1="1183.00" y1="897.40" x2="1183.00" y2="899.40" stroke="#000" stroke-width="1.5" />
<line x1="1187.00" y1="897.40" x2="1187.00" y2="899.40" stroke="#000" stroke-width="1.5" />
<line x1="1191.00" y1="897.40" x2="1191.00" y2="899.40" stroke="#000" stroke-width="1.5" />
<line x1="1195.00" y1="897.40" x2="1195.00" y2="899.40" stroke="#000" stroke-width="1.5" />
<line x1="1199.00" y1="897.40" x2="1199.00" y2="899.40" stroke="#000" stroke-width="1.5" />
<line x1="1203.00" y1="897.40" x2="1203.00" y2="899.40" stroke="#000" stroke-width="1.5" />
<line x1="1214.00" y1="898.40" x2="1243.00" y2="898.40" stroke="#000" stroke-width="1.0" />
<line x1="1252.70" y1="898.40" x2="1271.40" y2="898.40" stroke="#000" stroke-width="1.0" />
<rect x="1275.00" y="894.20" width="7.00" height="8.40" fill="#000" stroke="#000" stroke-width="0" />
<rect x="1282.00" y="894.80" width="37.00" height="7.20" fill="none" stroke="#000" stroke-width="1.0" />
<line x1="1296.00" y1="894.80" x2="1296.00" y2="902.00" stroke="#000" stroke-width="1.1" />
<line x1="1300.60" y1="894.80" x2="1300.60" y2="902.00" stroke="#000" stroke-width="1.1" />
<line x1="1305.20" y1="894.80" x2="1305.20" y2="902.00" stroke="#000" stroke-width="1.1" />
<line x1="1309.80" y1="894.80" x2="1309.80" y2="902.00" stroke="#000" stroke-width="1.1" />
<line x1="1314.40" y1="894.80" x2="1314.40" y2="902.00" stroke="#000" stroke-width="1.1" />
<line x1="1321.00" y1="898.40" x2="1359.70" y2="898.40" stroke="#000" stroke-width="1.0" />
<rect x="1359.30" y="894.20" width="2.60" height="8.50" fill="#000" stroke="#000" stroke-width="1.0" />
<path d="M1242,855 Q1245,852.5 1247.5,855 L1247.5,865 Q1246,868.5 1243,869 L1240,869.5 Q1235,871 1235,877 L1235,882 Q1235,887 1240,888.5 L1243,889 Q1246,890 1247.5,893 L1247.5,901.5 Q1245,904 1242,901.5 L1242,893 Q1240,891 1237,890.5 Q1232,888 1232,882 L1232,875 Q1232,870 1237,868 Q1240,867 1242,865 Z" fill="#fff" stroke="#000" stroke-width="1.0" />
<rect x="1236.00" y="874.00" width="3.20" height="8.50" fill="none" stroke="#000" stroke-width="0.8" />
<line x1="1246.40" y1="878.30" x2="1259.70" y2="878.30" stroke="#000" stroke-width="1.0" />
<path d="M721.9979001049948 434.49677516124194 L766.2456877156142 434.49677516124194 Q769.2455377231138 434.49677516124194,769.2455377231138 437.49662516874156 L769.2455377231138 495.24373781310936 Q769.2455377231138 498.243587820609,766.2456877156142 498.243587820609 L721.9979001049948 498.243587820609 C697.9991000449977 492.99385030748465,688.9995500224989 477.9946002699865,691.9994000299985 461.49542522873855 C696.4991750412479 441.996400179991,709.9985000749963 435.99670016499175,721.9979001049948 434.49677516124194 Z" fill="none" stroke="#000" stroke-width="1.0" />
<circle cx="720.20" cy="466.00" r="18.70" fill="none" stroke="#000" stroke-width="1.0"/>
<circle cx="753.50" cy="450.25" r="8.20" fill="none" stroke="#000" stroke-width="1.0"/>
<circle cx="753.50" cy="450.25" r="6.20" fill="none" stroke="#000" stroke-width="0.6"/>
<line x1="750.50" y1="445.75" x2="750.50" y2="454.75" stroke="#000" stroke-width="1.0" />
<line x1="753.50" y1="444.55" x2="753.50" y2="455.95" stroke="#000" stroke-width="1.0" />
<line x1="753.50" y1="450.25" x2="758.75" y2="450.25" stroke="#000" stroke-width="1.0" />
<line x1="766.50" y1="435.00" x2="766.50" y2="497.50" stroke="#000" stroke-width="1.0" />
<rect x="769.50" y="449.50" width="10.00" height="34.00" fill="none" stroke="#000" stroke-width="1.0" />
<rect x="769.50" y="449.50" width="2.00" height="34.00" fill="#000" stroke="#000" stroke-width="0" />
<rect x="774.30" y="449.50" width="1.40" height="34.00" fill="#000" stroke="#000" stroke-width="0" />
<line x1="776.80" y1="449.50" x2="776.80" y2="483.50" stroke="#000" stroke-width="0.8" />
<line x1="778.20" y1="449.50" x2="778.20" y2="483.50" stroke="#000" stroke-width="0.8" />
<rect x="779.50" y="449.50" width="28.30" height="34.00" fill="none" stroke="#000" stroke-width="1.0" />
<rect x="786.20" y="445.30" width="14.70" height="4.20" fill="none" stroke="#000" stroke-width="1.0" />
<rect x="786.20" y="483.50" width="14.70" height="4.10" fill="none" stroke="#000" stroke-width="1.0" />
<circle cx="793.40" cy="466.30" r="13.70" fill="none" stroke="#000" stroke-width="1.0"/>
<circle cx="793.40" cy="466.30" r="10.10" fill="none" stroke="#000" stroke-width="1.4"/>
<circle cx="793.40" cy="466.30" r="7.90" fill="none" stroke="#000" stroke-width="1.0"/>
<line x1="787.80" y1="466.30" x2="799.00" y2="466.30" stroke="#000" stroke-width="1.0" />
<line x1="793.40" y1="460.40" x2="793.40" y2="472.20" stroke="#000" stroke-width="1.0" />
<line x1="793.40" y1="449.50" x2="793.40" y2="456.30" stroke="#000" stroke-width="1.0" />
<line x1="793.40" y1="476.30" x2="793.40" y2="483.50" stroke="#000" stroke-width="1.0" />
<line x1="779.50" y1="466.30" x2="783.40" y2="466.30" stroke="#000" stroke-width="1.0" />
<line x1="803.40" y1="466.30" x2="807.80" y2="466.30" stroke="#000" stroke-width="1.0" />
<path d="M816.4931753412329 471.9949002549873 L829.9925003749813 471.6949152542373 C841.9919004049798 468.9950502474876,846.4916754162292 459.99550022498875,862.2408879556023 456.2456877156142" fill="none" stroke="#000" stroke-width="1.0" />
<path d="M816.4931753412329 473.4948252587371 L829.9925003749813 473.1948402579871 C841.9919004049798 471.24493775311237,847.991600419979 462.24538773061346,862.2408879556023 458.7955602219889" fill="none" stroke="#000" stroke-width="1.0" />
<line x1="816.49" y1="471.99" x2="816.49" y2="473.49" stroke="#000" stroke-width="1.0" />
<rect x="1056.69" y="429.56" width="63.86" height="18.69" fill="#fff" stroke="#000" stroke-width="1.2" />
<circle cx="1077.32" cy="438.90" r="7.30" fill="none" stroke="#000" stroke-width="0.9"/>
<circle cx="1077.32" cy="438.90" r="5.60" fill="none" stroke="#000" stroke-width="1.0"/>
<line x1="1073.32" y1="438.90" x2="1081.32" y2="438.90" stroke="#000" stroke-width="1.5" />
<line x1="1077.32" y1="434.90" x2="1077.32" y2="442.90" stroke="#000" stroke-width="1.5" />
<circle cx="1099.42" cy="438.90" r="7.30" fill="none" stroke="#000" stroke-width="0.9"/>
<circle cx="1099.42" cy="438.90" r="5.60" fill="none" stroke="#000" stroke-width="1.0"/>
<line x1="1095.42" y1="438.90" x2="1103.42" y2="438.90" stroke="#000" stroke-width="1.5" />
<line x1="1099.42" y1="434.90" x2="1099.42" y2="442.90" stroke="#000" stroke-width="1.5" />
<rect x="1056.69" y="455.56" width="63.86" height="18.69" fill="#fff" stroke="#000" stroke-width="1.2" />
<circle cx="1077.32" cy="464.90" r="7.30" fill="none" stroke="#000" stroke-width="0.9"/>
<circle cx="1077.32" cy="464.90" r="5.60" fill="none" stroke="#000" stroke-width="1.6"/>
<line x1="1073.32" y1="464.90" x2="1081.32" y2="464.90" stroke="#000" stroke-width="1.5" />
<line x1="1077.32" y1="460.90" x2="1077.32" y2="468.90" stroke="#000" stroke-width="1.5" />
<circle cx="1099.42" cy="464.90" r="7.30" fill="none" stroke="#000" stroke-width="0.9"/>
<circle cx="1099.42" cy="464.90" r="5.60" fill="none" stroke="#000" stroke-width="1.6"/>
<line x1="1095.42" y1="464.90" x2="1103.42" y2="464.90" stroke="#000" stroke-width="1.5" />
<line x1="1099.42" y1="460.90" x2="1099.42" y2="468.90" stroke="#000" stroke-width="1.5" />
<rect x="1056.69" y="481.56" width="63.86" height="18.69" fill="#fff" stroke="#000" stroke-width="1.2" />
<circle cx="1077.32" cy="490.90" r="7.30" fill="none" stroke="#000" stroke-width="0.9"/>
<circle cx="1077.32" cy="490.90" r="5.60" fill="none" stroke="#000" stroke-width="1.0"/>
<line x1="1073.32" y1="490.90" x2="1081.32" y2="490.90" stroke="#000" stroke-width="1.5" />
<line x1="1077.32" y1="486.90" x2="1077.32" y2="494.90" stroke="#000" stroke-width="1.5" />
<circle cx="1099.42" cy="490.90" r="7.30" fill="none" stroke="#000" stroke-width="0.9"/>
<circle cx="1099.42" cy="490.90" r="5.60" fill="none" stroke="#000" stroke-width="1.0"/>
<line x1="1095.42" y1="490.90" x2="1103.42" y2="490.90" stroke="#000" stroke-width="1.5" />
<line x1="1099.42" y1="486.90" x2="1099.42" y2="494.90" stroke="#000" stroke-width="1.5" />
<line x1="1084.31" y1="448.25" x2="1084.31" y2="455.56" stroke="#000" stroke-width="1.0" />
<line x1="1092.43" y1="448.25" x2="1092.43" y2="455.56" stroke="#000" stroke-width="1.0" />
<circle cx="1088.37" cy="451.09" r="0.80" fill="none" stroke="#000" stroke-width="0.8"/>
<line x1="1084.31" y1="474.25" x2="1084.31" y2="481.56" stroke="#000" stroke-width="1.0" />
<line x1="1092.43" y1="474.25" x2="1092.43" y2="481.56" stroke="#000" stroke-width="1.0" />
<circle cx="1088.37" cy="477.09" r="0.80" fill="none" stroke="#000" stroke-width="0.8"/>
<rect x="970.07" y="461.25" width="54.11" height="7.31" fill="none" stroke="#000" stroke-width="1.2" />
<rect x="1152.23" y="459.30" width="54.44" height="10.89" fill="none" stroke="#000" stroke-width="1.2" />
<path d="M1024.19,462.00 C1041.25,456.80 1038.00,437.30 1056.20,434.86" fill="none" stroke="#000" stroke-width="1.0" />
<path d="M1024.19,464.40 C1041.25,459.20 1038.00,439.70 1056.20,437.26" fill="none" stroke="#000" stroke-width="1.0" />
<path d="M1024.19,465.25 C1041.25,469.80 1038.00,490.92 1056.20,492.55" fill="none" stroke="#000" stroke-width="1.0" />
<path d="M1024.19,467.65 C1041.25,472.20 1038.00,493.32 1056.20,494.95" fill="none" stroke="#000" stroke-width="1.0" />
<path d="M1120.55,434.86 C1138.75,438.92 1132.25,455.17 1152.23,460.05" fill="none" stroke="#000" stroke-width="1.0" />
<path d="M1120.55,437.26 C1138.75,441.32 1132.25,457.57 1152.23,462.45" fill="none" stroke="#000" stroke-width="1.0" />
<path d="M1120.55,492.55 C1138.75,489.30 1132.25,469.80 1152.23,466.55" fill="none" stroke="#000" stroke-width="1.0" />
<path d="M1120.55,494.95 C1138.75,491.70 1132.25,472.20 1152.23,468.95" fill="none" stroke="#000" stroke-width="1.0" />
<line x1="1120.55" y1="463.20" x2="1152.23" y2="463.20" stroke="#000" stroke-width="1.0" />
<line x1="1120.55" y1="465.80" x2="1152.23" y2="465.80" stroke="#000" stroke-width="1.0" />
<line x1="994.94" y1="510.81" x2="1050.19" y2="466.12" stroke="#000" stroke-width="0.9" />
<line x1="1181.81" y1="510.81" x2="1129.00" y2="466.94" stroke="#000" stroke-width="0.9" />
<text transform="translate(1038.90,420.90) rotate(90) scale(0.9203,1)" font-size="13.23" font-weight="normal" fill="#000" >N</text>
<text transform="translate(1123.80,420.90) rotate(90) scale(0.9006,1)" font-size="13.52" font-weight="normal" fill="#000" >N</text>
<text transform="translate(1037.10,499.90) rotate(90) scale(0.9540,1)" font-size="14.03" font-weight="normal" fill="#000" >L</text>
<text transform="translate(1125.10,500.00) rotate(90) scale(0.9394,1)" font-size="14.24" font-weight="normal" fill="#000" >L</text>
<text transform="translate(988.25,514.88) rotate(90) scale(0.9855,1)" font-size="13.81" font-weight="normal" fill="#000" >L</text>
<rect x="988.25" y="530.90" width="9.50" height="1.30" fill="#000" stroke="#000" stroke-width="0" />
<polygon points="994.85,528.90 995.75,528.90 997.75,531.00 997.75,532.10 996.55,532.10" fill="#000" stroke="#000" stroke-width="0.01" />
<text transform="translate(1184.10,514.92) rotate(90) scale(0.9235,1)" font-size="14.24" font-weight="normal" fill="#000" >L</text>
<rect x="1184.10" y="530.80" width="9.80" height="1.30" fill="#000" stroke="#000" stroke-width="0" />
<polygon points="1191.00,528.80 1191.90,528.80 1193.90,530.90 1193.90,532.00 1192.70,532.00" fill="#000" stroke="#000" stroke-width="0.01" />
<path d="M1482.65625 1014.6875 L1486.5625 1020.625 L1476.40625 1101.875 L1467.8125 1101.875 L1477.96875 1020.625 Z" fill="#000" stroke="#000" stroke-width="1.0" />
<path d="M1468.59375 1100.3125 L1475.625 1098.75 L1474.84375 1101.875 Z" fill="#fff" stroke="#fff" stroke-width="0.6" />
<polygon points="1516.10,1016.20 1524.60,1016.20 1528.60,1022.00 1528.60,1057.50 1533.80,1066.30 1528.60,1068.30 1528.60,1090.30 1531.50,1091.00 1531.50,1093.50 1510.50,1093.50 1510.50,1091.00 1513.50,1090.30 1513.50,1068.30 1507.40,1067.30 1513.50,1057.50 1513.50,1022.00" fill="#000" stroke="#000" stroke-width="0.8" />
<rect x="1515.30" y="1017.80" width="4.20" height="3.60" fill="#fff" stroke="#000" stroke-width="0" />
<rect x="1523.10" y="1017.80" width="3.80" height="3.60" fill="#fff" stroke="#000" stroke-width="0" />
<rect x="1515.30" y="1024.00" width="4.20" height="2.70" fill="#fff" stroke="#000" stroke-width="0" />
<rect x="1523.10" y="1024.00" width="3.80" height="2.70" fill="#fff" stroke="#000" stroke-width="0" />
<rect x="1515.30" y="1029.30" width="4.20" height="2.60" fill="#fff" stroke="#000" stroke-width="0" />
<rect x="1523.10" y="1029.30" width="3.80" height="2.60" fill="#fff" stroke="#000" stroke-width="0" />
<rect x="1515.30" y="1035.20" width="4.20" height="2.60" fill="#fff" stroke="#000" stroke-width="0" />
<rect x="1523.10" y="1035.20" width="3.80" height="2.60" fill="#fff" stroke="#000" stroke-width="0" />
<rect x="1515.30" y="1040.40" width="4.20" height="3.30" fill="#fff" stroke="#000" stroke-width="0" />
<rect x="1523.10" y="1040.40" width="3.80" height="3.30" fill="#fff" stroke="#000" stroke-width="0" />
<rect x="1515.30" y="1045.20" width="4.20" height="1.80" fill="#fff" stroke="#000" stroke-width="0" />
<rect x="1523.10" y="1045.20" width="3.80" height="1.80" fill="#fff" stroke="#000" stroke-width="0" />
<rect x="1515.30" y="1048.30" width="4.20" height="2.60" fill="#fff" stroke="#000" stroke-width="0" />
<rect x="1523.10" y="1048.30" width="3.80" height="2.60" fill="#fff" stroke="#000" stroke-width="0" />
<rect x="1515.30" y="1057.50" width="4.20" height="5.20" fill="#fff" stroke="#000" stroke-width="0" />
<rect x="1523.10" y="1057.50" width="3.80" height="5.20" fill="#fff" stroke="#000" stroke-width="0" />
<rect x="1515.30" y="1066.00" width="11.60" height="1.40" fill="#fff" stroke="#000" stroke-width="0" />
<rect x="1517.20" y="1085.00" width="7.80" height="4.60" fill="#fff" stroke="#000" stroke-width="0" />
<rect x="1515.30" y="1070.00" width="0.90" height="5.00" fill="#fff" stroke="#000" stroke-width="0" />
<rect x="1526.00" y="1070.00" width="0.90" height="5.00" fill="#fff" stroke="#000" stroke-width="0" />
<rect x="1515.30" y="1077.00" width="0.90" height="5.00" fill="#fff" stroke="#000" stroke-width="0" />
<rect x="1526.00" y="1077.00" width="0.90" height="5.00" fill="#fff" stroke="#000" stroke-width="0" />
<text transform="translate(1491.20,1057.64) rotate(90) scale(1.1474,1)" font-size="12.35" font-weight="normal" fill="#000" >x2</text>
<polyline points="1381.25,1224.75 1415.00,1224.75 1419.38,1228.12 1422.50,1240.00" fill="none" stroke="#000" stroke-width="1.4" />
<polyline points="1381.25,1224.75 1375.62,1250.62 1380.62,1272.50 1416.25,1272.50" fill="none" stroke="#000" stroke-width="2.0" />
<polyline points="1375.62,1250.62 1408.75,1250.62" fill="none" stroke="#000" stroke-width="1.4" />
<polyline points="1376.25,1253.75 1408.75,1253.75" fill="none" stroke="#000" stroke-width="1.4" />
<polyline points="1415.00,1224.75 1408.75,1252.50 1413.75,1260.00 1416.25,1272.50" fill="none" stroke="#000" stroke-width="2.0" />
<polyline points="1417.50,1226.25 1411.88,1253.12 1416.25,1260.00 1413.75,1266.25" fill="none" stroke="#000" stroke-width="1.4" />
<polyline points="1417.50,1243.75 1457.50,1231.25" fill="none" stroke="#000" stroke-width="2.0" />
<polyline points="1422.50,1240.00 1457.50,1230.00" fill="none" stroke="#000" stroke-width="1.4" />
<polyline points="1416.25,1250.62 1458.75,1246.25" fill="none" stroke="#000" stroke-width="1.4" />
<polyline points="1413.75,1261.25 1458.75,1253.75" fill="none" stroke="#000" stroke-width="1.4" />
<polyline points="1413.75,1266.88 1480.00,1258.12" fill="none" stroke="#000" stroke-width="2.5" />
<polyline points="1457.50,1227.50 1478.75,1226.88" fill="none" stroke="#000" stroke-width="1.4" />
<polyline points="1457.50,1227.50 1457.50,1230.62" fill="none" stroke="#000" stroke-width="1.4" />
<polyline points="1461.25,1231.25 1458.75,1253.75" fill="none" stroke="#000" stroke-width="1.4" />
<polyline points="1465.00,1230.00 1465.62,1244.38 1477.50,1240.00" fill="none" stroke="#000" stroke-width="1.4" />
<polyline points="1458.75,1253.75 1475.00,1243.75 1490.00,1237.50 1497.50,1242.50 1500.62,1256.25" fill="none" stroke="#000" stroke-width="1.4" />
<polyline points="1480.00,1258.12 1500.62,1256.25" fill="none" stroke="#000" stroke-width="1.4" />
<polyline points="1475.00,1243.75 1480.00,1258.12" fill="none" stroke="#000" stroke-width="1.4" />
<polyline points="1485.00,1242.50 1487.50,1256.25" fill="none" stroke="#000" stroke-width="1.4" />
<polyline points="1476.88,1226.25 1484.38,1197.50 1487.50,1195.00 1508.12,1196.25 1511.25,1200.00" fill="none" stroke="#000" stroke-width="1.4" />
<polyline points="1481.25,1227.50 1487.50,1197.50" fill="none" stroke="#000" stroke-width="1.4" />
<polyline points="1511.25,1200.00 1500.00,1256.25" fill="none" stroke="#000" stroke-width="2.0" />
<polyline points="1513.75,1205.00 1502.50,1256.25" fill="none" stroke="#000" stroke-width="2.0" />
<polyline points="1500.62,1197.50 1490.62,1237.50" fill="none" stroke="#000" stroke-width="1.4" />
<polyline points="1508.12,1196.25 1497.50,1238.75" fill="none" stroke="#000" stroke-width="1.4" />
<polyline points="1487.50,1195.00 1489.38,1187.50 1492.50,1186.25" fill="none" stroke="#000" stroke-width="1.4" />
<polyline points="1491.25,1186.25 1500.00,1183.75 1510.00,1188.75 1515.00,1193.75" fill="none" stroke="#000" stroke-width="1.4" />
<polyline points="1491.25,1186.25 1493.75,1175.00 1497.50,1170.00 1503.75,1167.50 1511.25,1170.00 1516.25,1180.00 1514.38,1193.75" fill="none" stroke="#000" stroke-width="1.4" />
<polyline points="1493.75,1173.75 1501.25,1171.25 1510.00,1173.75 1515.00,1178.75" fill="none" stroke="#000" stroke-width="1.4" />
<polyline points="1507.50,1167.50 1510.00,1158.75" fill="none" stroke="#000" stroke-width="2.5" />
<polyline points="1510.00,1158.75 1513.12,1146.25" fill="none" stroke="#000" stroke-width="5.5" />
<text transform="translate(97.10,803.17) rotate(90) scale(0.9493,1)" font-size="18.60" font-weight="normal" fill="#000" >Instrukcja montażu / instalation instructions / Montageanleitung</text>
<text transform="translate(75.00,802.45) rotate(90) scale(1.0145,1)" font-size="18.60" font-weight="normal" fill="#000" >Lampa wisząca / Ceiling lamp / Deckenleuchte</text>
</svg>
</body></html>
